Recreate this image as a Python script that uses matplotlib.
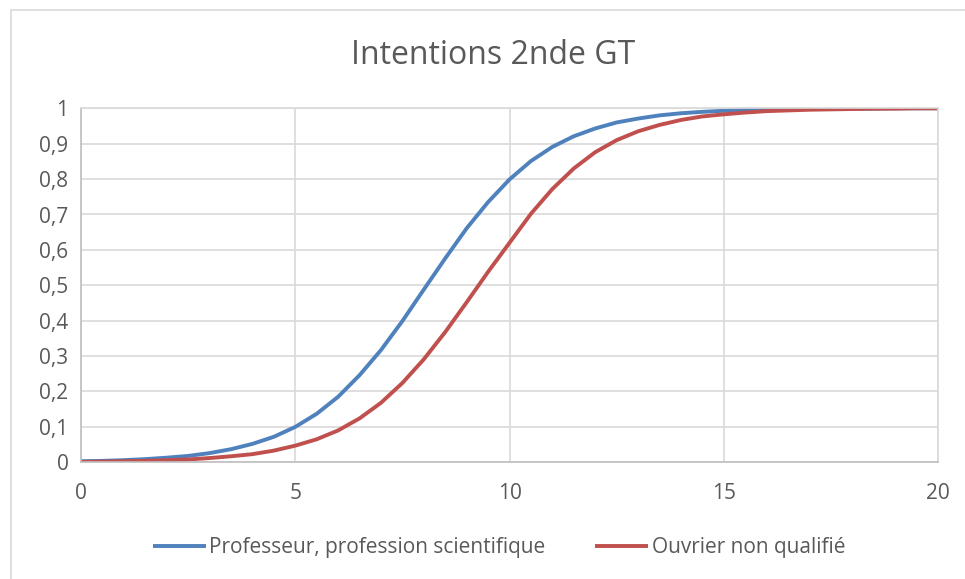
import numpy as np
import matplotlib
matplotlib.use('Agg')
import matplotlib.pyplot as plt
from matplotlib.patches import Rectangle

plt.rcParams['font.family'] = ['Open Sans', 'DejaVu Sans']

# notes (x) and probabilities
notes = [0, 0.5, 1, 1.5, 2, 2.5, 3, 3.5, 4, 4.5, 5, 5.5, 6, 6.5, 7, 7.5, 8, 8.5, 9, 9.5, 10,
         10.5, 11, 11.5, 12, 12.5, 13, 13.5, 14, 14.5, 15, 15.5, 16, 16.5, 17, 17.5, 18, 18.5, 19, 19.5, 20]
prof = [0.003, 0.004, 0.006, 0.009, 0.013, 0.018, 0.026, 0.037, 0.052, 0.072, 0.100, 0.137, 0.185,
        0.246, 0.317, 0.399, 0.488, 0.576, 0.661, 0.735, 0.799, 0.851, 0.891, 0.921, 0.943, 0.960,
        0.971, 0.980, 0.986, 0.990, 0.993, 0.995, 0.997, 0.998, 0.998, 0.999, 0.999, 0.999, 1.0, 1.0, 1.0]
ouvrier = [0.001, 0.002, 0.003, 0.004, 0.006, 0.008, 0.012, 0.017, 0.023, 0.033, 0.047, 0.065, 0.090,
           0.124, 0.168, 0.224, 0.291, 0.368, 0.452, 0.538, 0.620, 0.702, 0.772, 0.830, 0.876, 0.910,
           0.935, 0.953, 0.967, 0.977, 0.983, 0.988, 0.992, 0.994, 0.996, 0.997, 0.998, 0.999, 0.999, 1.0, 1.0]

series_names = ['Professeur, profession scientifique', 'Ouvrier non qualifié']

grey_txt = '#595959'
grid_col = '#d9d9d9'

fig = plt.figure(figsize=(9.65, 5.79), dpi=100)
# outer chart border
fig.patches.append(Rectangle((11 / 965, -0.1), 1.1, 1 - 10 / 579 + 0.1, transform=fig.transFigure,
                             fill=False, edgecolor='#d9d9d9', linewidth=1.2))

ax = fig.add_axes([81 / 965, 1 - 462.3 / 579, (938 - 81) / 965, (462.3 - 108.3) / 579])
ax.plot(notes, prof, color='#4f81bd', linewidth=2.8, label=series_names[0],
        solid_capstyle='butt', solid_joinstyle='round')
ax.plot(notes, ouvrier, color='#c0504d', linewidth=2.8, label=series_names[1],
        solid_capstyle='butt', solid_joinstyle='round')

ax.set_xlim(0, 20)
ax.set_ylim(0, 1)
ax.set_xticks([0, 5, 10, 15, 20])
ax.set_yticks(np.arange(0, 1.01, 0.1))
ax.set_yticklabels(['0', '0,1', '0,2', '0,3', '0,4', '0,5', '0,6', '0,7', '0,8', '0,9', '1'])
ax.grid(True, color=grid_col, linewidth=1.2)
ax.set_axisbelow(True)
for s in ax.spines.values():
    s.set_color(grid_col)
    s.set_linewidth(1.2)
ax.spines['bottom'].set_color('#bfbfbf')
ax.spines['left'].set_color('#bfbfbf')
ax.tick_params(length=0, labelsize=15, colors=grey_txt)
ax.tick_params(axis='x', pad=15)
ax.tick_params(axis='y', pad=9)

fig.text(0.5115, 1 - 55 / 579, 'Intentions 2nde GT', ha='center', va='center', fontsize=23, color=grey_txt)

fig.legend(loc='center', bbox_to_anchor=(0.517, 1 - 548 / 579), ncol=2, frameon=False,
           fontsize=15, labelcolor=grey_txt, handlelength=2.55, handletextpad=0.15, columnspacing=2.4)

fig.savefig('out.png', dpi=100)
